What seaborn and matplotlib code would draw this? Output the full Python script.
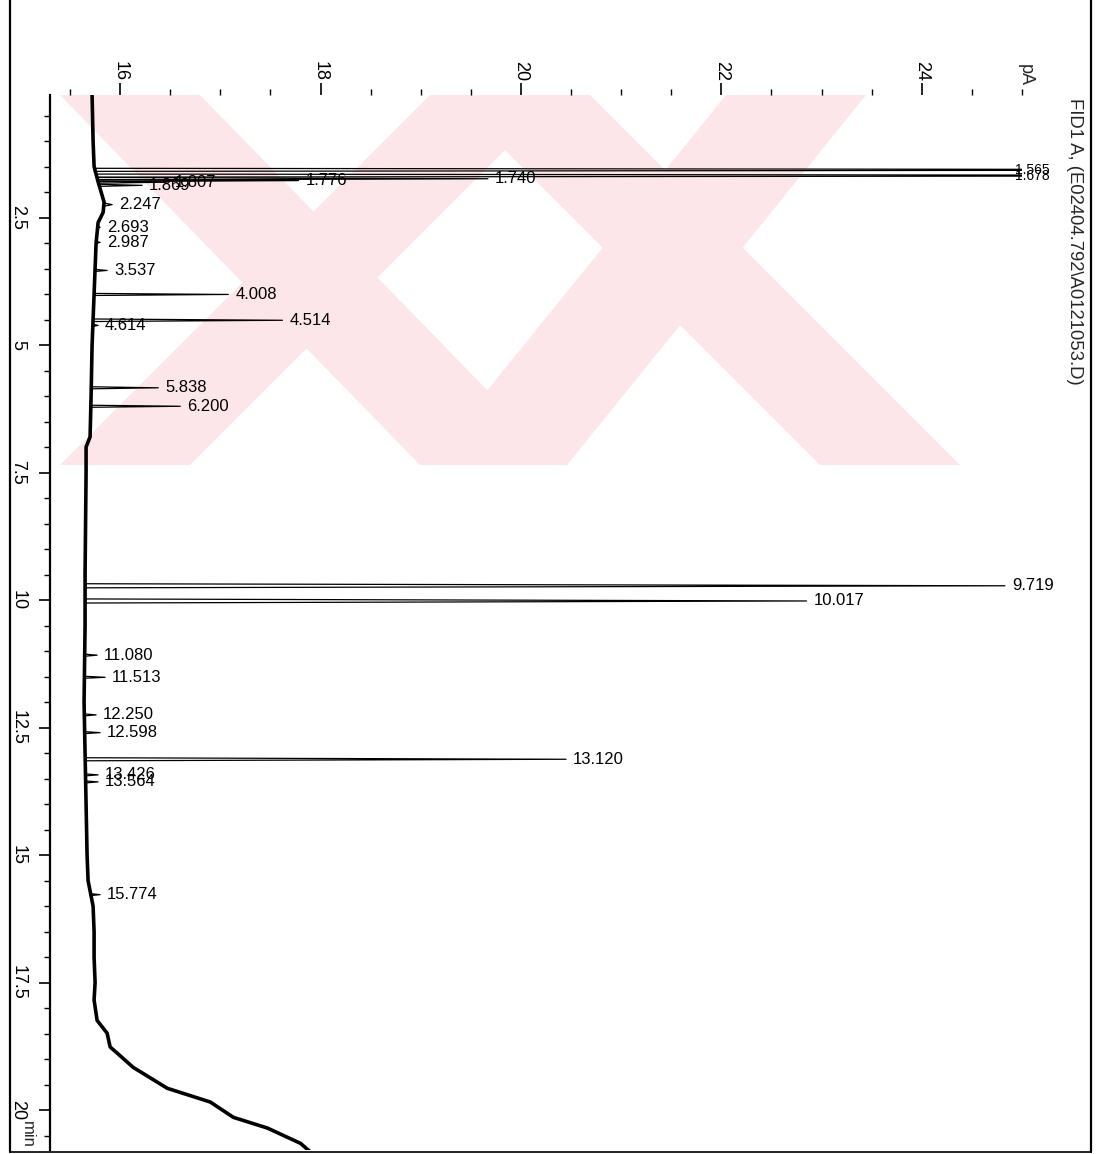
import numpy as np
import pandas as pd
import matplotlib
matplotlib.use("Agg")
import matplotlib.pyplot as plt
import seaborn as sns
from matplotlib.patches import Polygon
from matplotlib.lines import Line2D
from matplotlib.ticker import MultipleLocator, FixedLocator

# ---------------- data ----------------
base_time = [0.10, 1.0, 1.5, 1.8, 2.0, 2.2, 2.4, 2.6, 3.0, 3.5, 4.0, 4.5, 5.0, 6.0,
             6.8, 7.0, 7.5, 9.5, 10.5, 12.0, 13.0, 14.0, 15.0, 15.5, 16.0, 16.5,
             17.0, 17.5, 17.84, 18.24, 18.49, 18.76, 18.88, 19.16, 19.57, 19.84,
             20.14, 20.35, 20.65, 20.82]
base_signal = [15.72, 15.73, 15.74, 15.78, 15.81, 15.84, 15.83, 15.78, 15.76, 15.75,
               15.74, 15.73, 15.72, 15.71, 15.70, 15.66, 15.66, 15.65, 15.65, 15.64,
               15.65, 15.66, 15.67, 15.68, 15.73, 15.74, 15.74, 15.75, 15.74, 15.77,
               15.87, 15.90, 15.97, 16.13, 16.47, 16.90, 17.13, 17.47, 17.80, 17.90]

peak_rt = [1.565, 1.678, 1.740, 1.776, 1.807, 1.869, 2.247, 2.693, 2.987, 3.537,
           4.008, 4.514, 4.614, 5.838, 6.200, 9.719, 10.017, 11.080, 11.513,
           12.250, 12.598, 13.120, 13.426, 13.564, 15.774]
peak_labels = ["1.565", "1.678", "1.740", "1.776", "1.807", "1.869", "2.247",
               "2.693", "2.987", "3.537", "4.008", "4.514", "4.614", "5.838",
               "6.200", "9.719", "10.017", "11.080", "11.513", "12.250", "12.598",
               "13.120", "13.426", "13.564", "15.774"]
peak_apex = [30.0, 30.0, 19.67, 17.78, 16.47, 16.22, 15.92, 15.80, 15.80, 15.87,
             17.08, 17.62, 15.78, 16.38, 16.60, 24.83, 22.85, 15.77, 15.85,
             15.76, 15.80, 20.45, 15.78, 15.78, 15.80]
peak_base = [15.74, 15.76, 15.77, 15.78, 15.78, 15.79, 15.84, 15.78, 15.76, 15.75,
             15.74, 15.73, 15.73, 15.71, 15.71, 15.65, 15.65, 15.65, 15.64,
             15.64, 15.64, 15.65, 15.65, 15.65, 15.70]
peak_halfwidth = [0.03, 0.03, 0.025, 0.02, 0.02, 0.02, 0.03, 0.02, 0.02, 0.02,
                  0.02, 0.025, 0.02, 0.02, 0.02, 0.04, 0.04, 0.02, 0.02,
                  0.02, 0.02, 0.03, 0.02, 0.02, 0.02]

time_ticks = [2.5, 5, 7.5, 10, 12.5, 15, 17.5, 20]
time_ticklabels = ["2.5", "5", "7.5", "10", "12.5", "15", "17.5", "20"]
signal_ticks = [16, 18, 20, 22, 24]
signal_ticklabels = ["16", "18", "20", "22", "24"]
signal_unit = "pA"
time_unit = "min"
signal_title = "FID1 A, (E02404.792\\A0121053.D)"

# ---------------- figure ----------------
sns.set_style("white")
plt.rcParams['font.family'] = ['Liberation Sans', 'DejaVu Sans']

W, H = 1097, 1154
fig = plt.figure(figsize=(W / 100, H / 100), dpi=100)
fig.patch.set_facecolor("white")

def fx(px):
    return px / W

def fy(py):
    return 1 - py / H

# watermark (light pink diagonal bars) behind the plot
pink = "#fde6ea"
bars = [
    [(60, 95), (200, 95), (560, 465), (420, 465)],
    [(430, 95), (560, 95), (190, 465), (60, 465)],
    [(450, 95), (590, 95), (960, 465), (820, 465)],
    [(726, 95), (866, 95), (567, 465), (427, 465)],
]
for b in bars:
    fig.patches.append(Polygon([(fx(x), fy(y)) for x, y in b], closed=True,
                               transform=fig.transFigure, facecolor=pink,
                               edgecolor="none", zorder=0))

ax = fig.add_axes([fx(50), fy(1150), fx(1022) - fx(50), (1150 - 95) / H])
ax.set_facecolor("none")
ax.set_zorder(2)

# baseline trace
df_base = pd.DataFrame({"time": base_time, "signal": base_signal})
sns.lineplot(data=df_base, x="signal", y="time", sort=False, estimator=None,
             color="black", lw=2.6, ax=ax)

# peaks as thin spikes
rows = []
for i, (rt, ap, bs, hw) in enumerate(zip(peak_rt, peak_apex, peak_base, peak_halfwidth)):
    rows += [(i, rt - hw, bs), (i, rt, ap), (i, rt + hw, bs)]
df_peaks = pd.DataFrame(rows, columns=["peak", "time", "signal"])
sns.lineplot(data=df_peaks, x="signal", y="time", units="peak", sort=False,
             estimator=None, color="black", lw=0.9, ax=ax)

xmin, xmax = 15.30, 25.0
ax.set_xlim(xmin, xmax)
ax.set_ylim(20.78, 0.098)

for rt, ap, lab in zip(peak_rt, peak_apex, peak_labels):
    if ap > xmax:
        ax.text(xmax - 0.07, rt, lab, ha="left", va="center", fontsize=10,
                color="black", clip_on=False)
    else:
        ax.text(ap + 0.07, rt, lab, ha="left", va="center", fontsize=12,
                color="black", clip_on=False)

# axes styling
for s in ["right", "bottom", "top"]:
    ax.spines[s].set_visible(False)
ax.spines["left"].set_linewidth(1.6)
ax.spines["left"].set_color("black")

ax.xaxis.tick_top()
ax.xaxis.set_major_locator(FixedLocator(signal_ticks))
ax.set_xticklabels(signal_ticklabels, rotation=-90, fontsize=13)
ax.xaxis.set_minor_locator(MultipleLocator(0.5))
ax.tick_params(axis="x", which="major", top=True, bottom=False, length=9,
               width=1.2, pad=1, direction="out", colors="black")
ax.tick_params(axis="x", which="minor", top=True, bottom=False, length=4,
               width=1.0, direction="out", colors="black")

ax.yaxis.set_major_locator(FixedLocator(time_ticks))
ax.set_yticklabels(time_ticklabels, rotation=-90, fontsize=13, va="center")
ax.yaxis.set_minor_locator(MultipleLocator(0.5))
ax.tick_params(axis="y", which="major", left=True, length=8, width=1.2,
               pad=9, direction="out", colors="black")
ax.tick_params(axis="y", which="minor", left=True, length=4, width=1.0,
               direction="out", colors="black")
ax.set_xlabel("")
ax.set_ylabel("")
ax.grid(False)

# unit labels
ax.text(25.03, 1.009, signal_unit, transform=ax.get_xaxis_transform(),
        rotation=-90, ha="center", va="bottom", fontsize=13)
ax.text(-0.023, 20.22, time_unit, transform=ax.get_yaxis_transform(),
        rotation=-90, ha="center", va="top", fontsize=12)

fig.text(fx(1075), fy(98), signal_title, rotation=-90, ha="center", va="top",
         fontsize=13.3)

# page frame lines
fig.add_artist(Line2D([fx(10), fx(10)], [fy(0), fy(1152)], color="black", lw=1.6,
                      transform=fig.transFigure))
fig.add_artist(Line2D([fx(1091), fx(1091)], [fy(0), fy(1152)], color="black", lw=1.6,
                      transform=fig.transFigure))
fig.add_artist(Line2D([fx(10), fx(1091)], [fy(1152), fy(1152)], color="black", lw=1.2,
                      transform=fig.transFigure))

fig.savefig("out.png", dpi=100, facecolor="white")
